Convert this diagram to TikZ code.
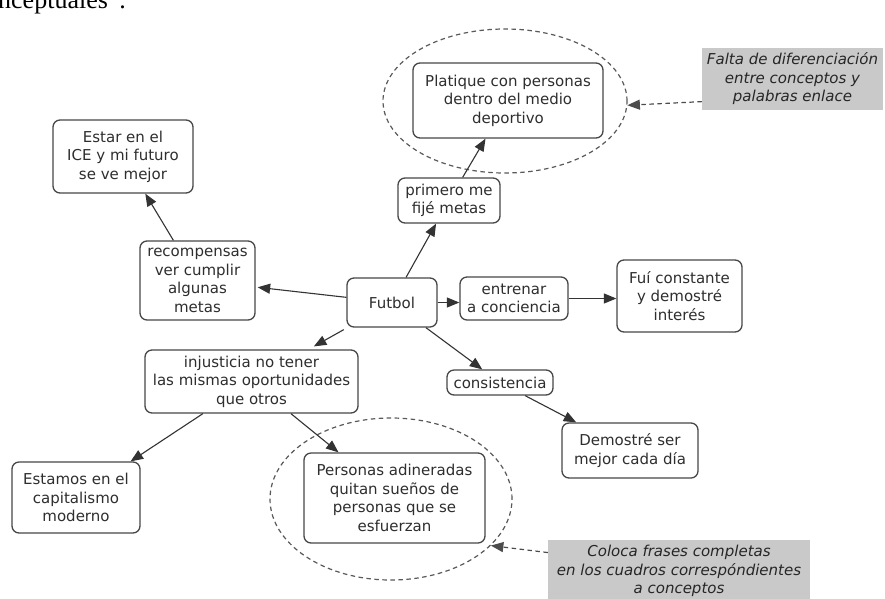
\documentclass[tikz,border=0pt]{standalone}
\usepackage{fontspec}
\setmainfont{DejaVu Sans}
\newfontfamily\pageserif{Liberation Serif}
\usetikzlibrary{arrows.meta,shapes.geometric}
\begin{document}
\begin{tikzpicture}[x=1pt,y=-1pt,
  box/.style={draw=black!72, line width=1.3pt, rounded corners=7pt, fill=white, align=center, inner sep=0pt, font=\fontsize{15}{18.5}\selectfont, text=black!82},
  note/.style={fill=black!21, align=center, inner sep=0pt, font=\fontsize{15}{18.5}\selectfont\itshape, text=black!85},
  conn/.style={draw=black!80, line width=1.1pt, -{Triangle[length=12.5pt,width=10pt]}},
  dconn/.style={draw=black!70, line width=1.2pt, dash pattern=on 4.5pt off 3.5pt, -{Triangle[length=12.5pt,width=10pt]}},
  ring/.style={ellipse, draw=black!65, line width=1.2pt, dash pattern=on 4.5pt off 3.5pt, inner sep=0pt}
]
\useasboundingbox[fill=white] (0,0) rectangle (885,598);

\node[anchor=base west, inner sep=0pt, font=\pageserif\fontsize{26}{26}\selectfont] (pagetext) at (-2,8) {nceptuales”.};

\node[ring, minimum width=244pt, minimum height=144pt] (ring1) at (505,101) {};
\node[ring, minimum width=242pt, minimum height=162pt] (ring2) at (391,499) {};

\node[box, minimum width=190pt, minimum height=75pt] (platique) at (508,100.5) {Platique con personas\\dentro del medio\\deportivo};
\node[box, minimum width=102pt, minimum height=45pt] (primero) at (449,200.5) {primero me\\fijé metas};
\node[box, minimum width=140pt, minimum height=73pt] (estar) at (123,156.5) {Estar en el\\ICE y mi futuro\\se ve mejor};
\node[box, minimum width=115pt, minimum height=79pt] (recomp) at (197.5,280.5) {recompensas\\ver cumplir\\algunas\\metas};
\node[box, minimum width=90pt, minimum height=49pt] (futbol) at (392,302.5) {Futbol};
\node[box, minimum width=108pt, minimum height=43pt] (entrenar) at (514,298.5) {entrenar\\a conciencia};
\node[box, minimum width=125pt, minimum height=72pt] (fui) at (679.5,296) {Fuí constante\\y demostré\\interés};
\node[box, minimum width=106pt, minimum height=25pt] (consist) at (500,382.5) {consistencia};
\node[box, minimum width=136pt, minimum height=55pt] (demostre) at (630,450.5) {Demostré ser\\mejor cada día};
\node[box, minimum width=213pt, minimum height=63pt] (injust) at (251.5,381.5) {injusticia no tener\\las mismas oportunidades\\que otros};
\node[box, minimum width=128pt, minimum height=71pt] (estamos) at (76,497.5) {Estamos en el\\capitalismo\\moderno};
\node[box, minimum width=181pt, minimum height=90pt] (personas) at (394.5,498) {Personas adineradas\\quitan sueños de\\personas que se\\esfuerzan};

\node[note, minimum width=181pt, minimum height=62pt] (falta) at (792.5,79) {Falta de diferenciación\\entre conceptos y\\palabras enlace};
\node[note, minimum width=262pt, minimum height=62pt] (coloca) at (679,571) {Coloca frases completas\\en los cuadros correspóndientes\\a conceptos};

\draw[conn] (primero) -- (platique);
\draw[conn] (recomp) -- (estar);
\draw[conn, shorten >=2pt] (futbol) -- (recomp);
\draw[conn] (futbol) -- (primero);
\draw[conn] (futbol) -- (futbol -| entrenar.west);
\draw[conn, shorten <=4pt, shorten >=6pt] (futbol) -- (injust);
\draw[conn] (futbol) -- (consist);
\draw[conn] (entrenar) -- (entrenar -| fui.west);
\draw[conn] (consist) -- (demostre);
\draw[conn] (injust) -- (estamos);
\draw[conn] (injust) -- (personas);
\draw[dconn] (falta.194) -- (ring1.-2);
\draw[dconn] (coloca.172) -- (ring2.-25);
\end{tikzpicture}
\end{document}
